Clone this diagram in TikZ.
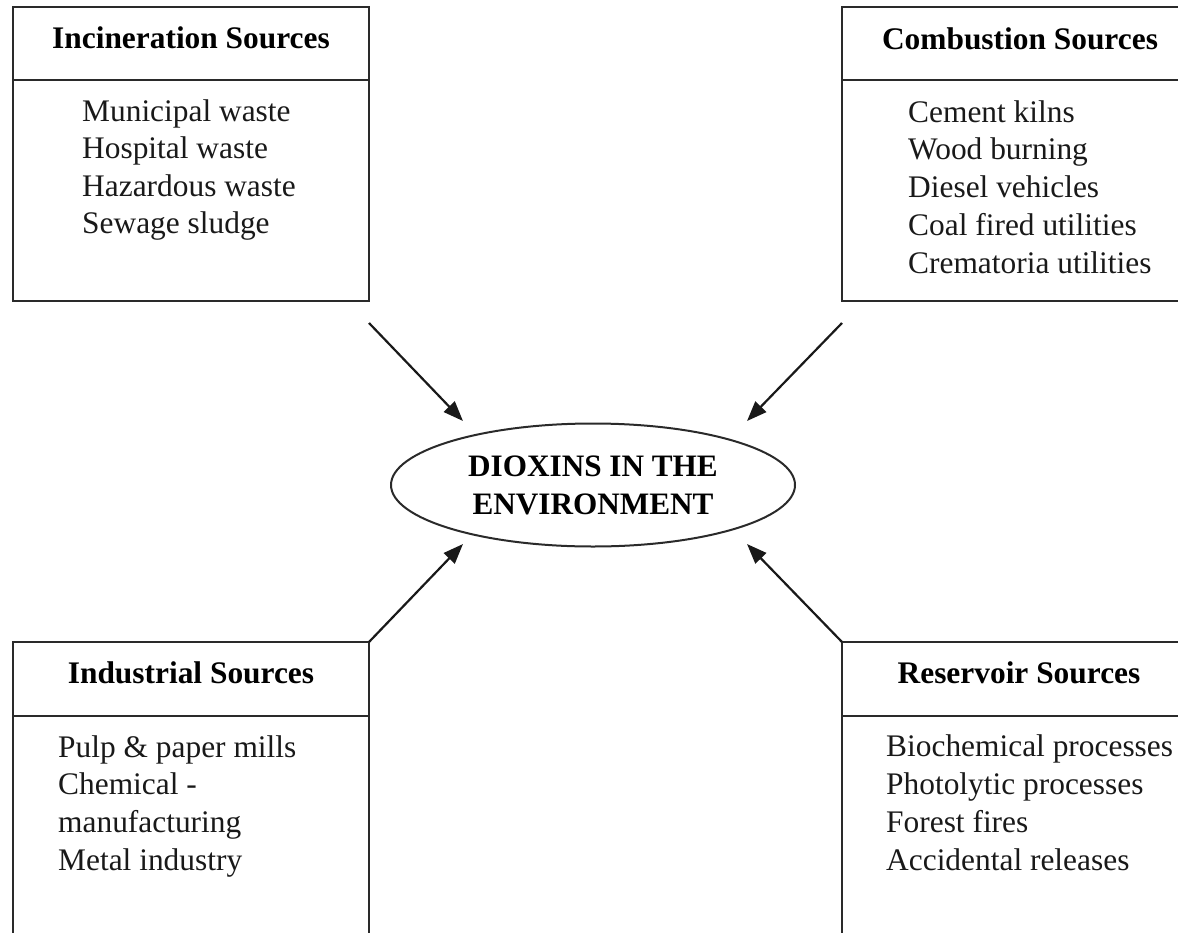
\documentclass[tikz,border=0pt]{standalone}
\usepackage{fontspec}
\setmainfont{Liberation Serif}
\usetikzlibrary{arrows.meta,shapes.geometric}
\definecolor{ink}{HTML}{2A2A2A}
\tikzset{
  boxline/.style={draw=ink, line width=2.3pt},
  head/.style={font=\fontsize{31.4}{37.7}\selectfont\bfseries, text=black, inner sep=0pt, anchor=base},
  item/.style={font=\fontsize{31.4}{37.7}\selectfont, text=black!90, inner sep=0pt, anchor=base west},
  arr/.style={draw=black!90, line width=2.2pt, -{Triangle[length=20pt,width=15pt]}},
  centre/.style={ellipse, draw=ink, line width=2pt, minimum width=404pt, minimum height=123pt, inner sep=0pt, align=center, font=\fontsize{31.2}{38}\selectfont\bfseries}
}
\begin{document}
\begin{tikzpicture}[x=1pt,y=-1pt]
\useasboundingbox (0,0) rectangle (1178,932);
\clip (0,0) rectangle (1178,932);
% boxes
\draw[boxline] (13,7) rectangle (369,301);
\draw[boxline] (13,80) -- (369,80);
\draw[boxline] (842,7) rectangle (1198,301);
\draw[boxline] (842,80) -- (1198,80);
\draw[boxline] (13,950) -- (13,642) -- (369,642) -- (369,950);
\draw[boxline] (13,716) -- (369,716);
\draw[boxline] (842,950) -- (842,642) -- (1198,642) -- (1198,950);
\draw[boxline] (842,716) -- (1198,716);
% headers
\node[head] (h1) at (191,48) {Incineration Sources};
\node[head] (h2) at (1020,49) {Combustion Sources};
\node[head] (h3) at (191,683) {Industrial Sources};
\node[head] (h4) at (1019,683) {Reservoir Sources};
% items
\foreach \t [count=\i] in {Municipal waste, Hospital waste, Hazardous waste, Sewage sludge}
  \node[item] (inc\i) at (82,{121+37.5*(\i-1)}) {\t};
\foreach \t [count=\i] in {Cement kilns, Wood burning, Diesel vehicles, Coal fired utilities, Crematoria utilities}
  \node[item] (com\i) at (908,{122+37.75*(\i-1)}) {\t};
\foreach \t [count=\i] in {Pulp \& paper mills, Chemical -, manufacturing, Metal industry}
  \node[item] (ind\i) at (58,{757+37.7*(\i-1)}) {\t};
\foreach \t [count=\i] in {Biochemical processes, Photolytic processes, Forest fires, Accidental releases}
  \node[item] (res\i) at (886,{756+38*(\i-1)}) {\t};
% centre
\node[centre] (dio) at (593,485) {DIOXINS IN THE\\ENVIRONMENT};
% arrows
\coordinate (s1) at (369,323); \coordinate (e1) at (463,421);
\coordinate (s2) at (842,323); \coordinate (e2) at (747,421);
\coordinate (s3) at (369,642); \coordinate (e3) at (463,544);
\coordinate (s4) at (842,642); \coordinate (e4) at (747,544);
\draw[arr] (s1) -- (e1);
\draw[arr] (s2) -- (e2);
\draw[arr] (s3) -- (e3);
\draw[arr] (s4) -- (e4);
\end{tikzpicture}
\end{document}
